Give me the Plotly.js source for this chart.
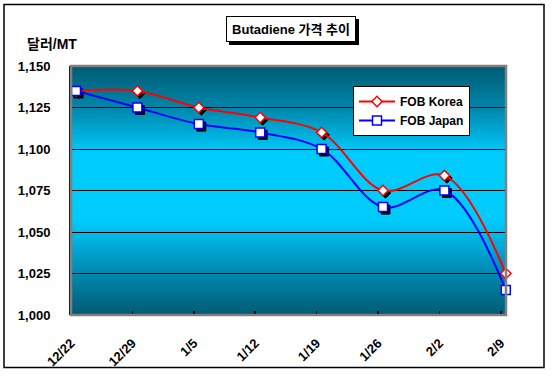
<!DOCTYPE html>
<html><head><meta charset="utf-8">
<script src="https://cdn.plot.ly/plotly-3.0.1.min.js"></script>
<style>html,body{margin:0;padding:0;background:#fff}#chart{width:552px;height:377px}</style>
</head><body><div id="chart"></div>
<script>
// ---- data ----
const categories = ['12/22','12/29','1/5','1/12','1/19','1/26','2/2','2/9'];
const fobKorea = [1135,1135,1125,1119,1110,1075,1084,1025];
const fobJapan = [1135,1125,1115,1110,1100,1065,1075,1015];
const seriesNames = ['FOB Korea','FOB Japan'];
const yTickVals = [1000,1025,1050,1075,1100,1125,1150];
const titleText = 'Butadiene 가격 추이';
const yUnitText = '달러/MT';

// ---- geometry / style ----
const W = 552, H = 377;
const M = {l:71, r:46, t:66, b:62};
const plotW = W - M.l - M.r, plotH = H - M.t - M.b;
const xUnitPx = 61.4;              // pixels per category
const xOff = 5 / xUnitPx;           // points sit 5px right of the tick marks
const xRange = [-xOff, -xOff + plotW / xUnitPx];
const yRange = [1000, 1150];
const yUnitPx = plotH / (yRange[1] - yRange[0]);
const shPx = 2.5;                   // marker shadow offset
const FONT = "'Liberation Sans', Arial, 'Noto Sans CJK KR', sans-serif";

const xIdx = categories.map((_, i) => i);
const tickPos = xIdx.map(i => i - xOff);

// pixel -> paper helpers (for layout decorations only)
const px = x => (x - M.l) / plotW;
const py = y => (H - M.b - y) / plotH;

const grad = `<svg xmlns='http://www.w3.org/2000/svg' width='10' height='100' preserveAspectRatio='none'>
<defs><linearGradient id='g' x1='0' y1='0' x2='0' y2='1'>
<stop offset='0' stop-color='#005B73'/>
<stop offset='0.17' stop-color='#0087AB'/>
<stop offset='0.35' stop-color='#00CBFD'/>
<stop offset='0.62' stop-color='#00CBFD'/>
<stop offset='0.8' stop-color='#0092BA'/>
<stop offset='1' stop-color='#005B73'/>
</linearGradient></defs><rect width='10' height='100' fill='url(#g)'/></svg>`;
const gradURL = 'data:image/svg+xml;charset=utf-8,' + encodeURIComponent(grad);

const traces = [
  // shadows (on shifted axes x/y)
  {x: xIdx, y: fobKorea, type:'scatter', mode:'markers', xaxis:'x', yaxis:'y', showlegend:false, hoverinfo:'skip', cliponaxis:false,
   marker:{symbol:'diamond', size:8, color:'#000', line:{width:1, color:'#000'}}},
  {x: xIdx, y: fobJapan, type:'scatter', mode:'markers', xaxis:'x', yaxis:'y', showlegend:false, hoverinfo:'skip', cliponaxis:false,
   marker:{symbol:'square', size:9, color:'#000', line:{width:1, color:'#000'}}},
  // main series
  {x: xIdx, y: fobKorea, name: seriesNames[0], type:'scatter', mode:'lines+markers', xaxis:'x2', yaxis:'y2', cliponaxis:false,
   line:{color:'#FF0000', width:2, shape:'spline', smoothing:1},
   marker:{symbol:'diamond', size:8, color:'#FFFFFF', line:{width:1.5, color:'#FF0000'}}},
  {x: xIdx, y: fobJapan, name: seriesNames[1], type:'scatter', mode:'lines+markers', xaxis:'x2', yaxis:'y2', cliponaxis:false,
   line:{color:'#0000FF', width:2, shape:'spline', smoothing:1},
   marker:{symbol:'square', size:9, color:'#FFFFFF', line:{width:1.5, color:'#0000FF'}}}
];

const hiddenAxis = {showgrid:false, zeroline:false, showline:false, showticklabels:false, ticks:'', fixedrange:true};

const layout = {
  width: W, height: H,
  margin: M,
  paper_bgcolor: '#FFFFFF',
  plot_bgcolor: 'rgba(0,0,0,0)',
  font: {family: FONT, size: 13, color: '#000', weight: 'bold'},
  showlegend: true,
  legend: {x: px(353), y: py(86), xanchor:'left', yanchor:'top', bgcolor:'#FFFFFF', bordercolor:'#000', borderwidth:1,
           font:{family: FONT, size:12, color:'#000', weight:'bold'}, tracegroupgap:0, itemwidth:36},
  xaxis: Object.assign({type:'linear', range:[xRange[0] - shPx / xUnitPx, xRange[1] - shPx / xUnitPx]}, hiddenAxis),
  yaxis: Object.assign({type:'linear', range:[yRange[0] + shPx / yUnitPx, yRange[1] + shPx / yUnitPx]}, hiddenAxis),
  xaxis2: {overlaying:'x', anchor:'y2', type:'linear', range:xRange, showgrid:false, zeroline:false,
           tickmode:'array', tickvals:tickPos, ticktext:categories, tickangle:-45,
           ticks:'inside', ticklen:4, tickwidth:1.5, tickcolor:'#000', showline:false,
           ticklabelstandoff: 17,
           tickfont:{family:FONT, size:13, color:'#000', weight:'bold'}},
  yaxis2: {overlaying:'y', anchor:'x2', type:'linear', range:yRange, tickmode:'array', tickvals:yTickVals,
           tickformat:',d', showgrid:true, gridcolor:'#000000', gridwidth:1, zeroline:false,
           showline:true, linecolor:'#000', linewidth:2, ticks:'', ticklabelstandoff:16,
           tickfont:{family:FONT, size:13, color:'#000', weight:'bold'}},
  images: [{source: gradURL, xref:'paper', yref:'paper', x:0, y:1, sizex:1, sizey:1, sizing:'stretch',
            xanchor:'left', yanchor:'top', layer:'below'}],
  shapes: [
    // plot-area border (gray)
    {type:'rect', xref:'paper', yref:'paper', x0:0, x1:1, y0:0, y1:1, line:{color:'#808080', width:2.5}, layer:'above'},
    // outer chart border
    {type:'rect', xref:'paper', yref:'paper', x0:px(4), x1:px(544), y0:py(367.5), y1:py(4.5), line:{color:'#000', width:1.5}},
    // title box shadow
    {type:'rect', xref:'paper', yref:'paper', x0:px(229), x1:px(359), y0:py(45), y1:py(19), fillcolor:'#000', line:{width:0}}
  ],
  annotations: [
    {text: titleText, xref:'paper', yref:'paper', x:px(291), y:py(29), xanchor:'center', yanchor:'middle', showarrow:false,
     bgcolor:'#FFFFFF', bordercolor:'#000', borderwidth:1, borderpad:3, width:122, height:18,
     font:{family:FONT, size:13, color:'#000', weight:'bold'}},
    {text: yUnitText, xref:'paper', yref:'paper', x:px(25), y:py(44), xanchor:'left', yanchor:'middle', showarrow:false,
     font:{family:FONT, size:14, color:'#000', weight:'bold'}}
  ]
};

Plotly.newPlot('chart', traces, layout, {staticPlot:true, displayModeBar:false});
</script>
</body></html>
